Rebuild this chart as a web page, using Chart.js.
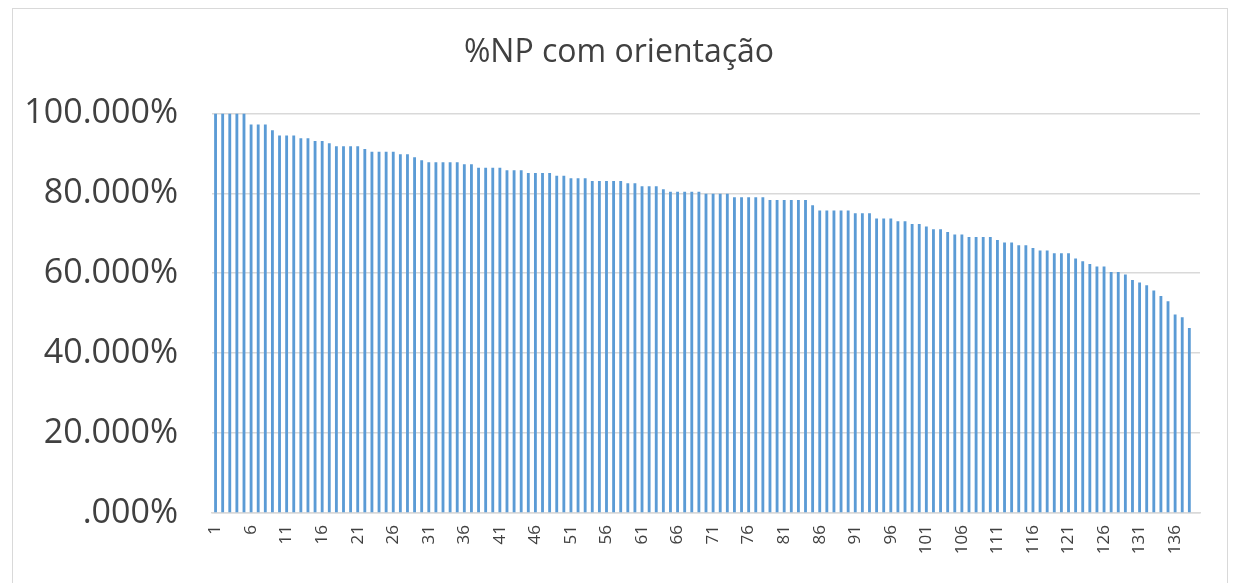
<!DOCTYPE html>
<html>
<head>
<meta charset="utf-8">
<script src="https://cdn.jsdelivr.net/npm/chart.js@4"></script>
<style>
  body { margin: 0; background: #fff; }
  #wrap { position: relative; width: 1238px; height: 583px; overflow: hidden; }
  #frame { position: absolute; left: 12px; top: 8px; width: 1216px; height: 600px; border: 1px solid #d9d9d9; box-sizing: border-box; }
  canvas { position: absolute; left: 0; top: 0; }
</style>
</head>
<body>
<div id="wrap">
  <div id="frame"></div>
  <canvas id="npChart" width="1238" height="583"></canvas>
</div>
<script>
const chartTitle = "%NP com orientação";

// % of NP with guidance, one value per item (sorted)
const npValues = [
  100, 100, 100, 100, 100, 97.2, 97.2, 97.2, 95.8, 94.5,
  94.5, 94.5, 93.8, 93.8, 93.1, 93.1, 92.5, 91.8, 91.8, 91.8,
  91.8, 91.1, 90.4, 90.4, 90.4, 90.4, 89.8, 89.8, 89.0, 88.3,
  87.8, 87.8, 87.8, 87.8, 87.8, 87.3, 87.3, 86.4, 86.4, 86.4,
  86.4, 85.8, 85.8, 85.8, 85.1, 85.1, 85.1, 85.1, 84.4, 84.4,
  83.8, 83.8, 83.8, 83.1, 83.1, 83.1, 83.1, 83.1, 82.5, 82.5,
  81.8, 81.8, 81.8, 81.0, 80.4, 80.4, 80.4, 80.4, 80.4, 79.9,
  79.9, 79.9, 79.9, 79.0, 79.0, 79.0, 79.0, 79.0, 78.3, 78.3,
  78.3, 78.3, 78.3, 78.3, 77.0, 75.7, 75.7, 75.7, 75.7, 75.7,
  75.0, 75.0, 75.0, 73.7, 73.7, 73.7, 73.0, 73.0, 72.3, 72.3,
  71.7, 71.0, 71.0, 70.3, 69.7, 69.7, 69.1, 69.1, 69.1, 69.1,
  68.3, 67.7, 67.7, 67.0, 67.0, 66.3, 65.7, 65.7, 65.0, 65.0,
  65.0, 63.7, 63.0, 62.3, 61.7, 61.7, 60.3, 60.3, 59.7, 58.3,
  57.7, 57.0, 55.7, 54.3, 53.0, 49.7, 49.0, 46.3, null
];
const categories = npValues.map((v, i) => String(i + 1));
const yTicks = [0, 20, 40, 60, 80, 100];

const textColor = "#404040";
const gridColor = "#d9d9d9";
const fontFamily = "'Open Sans', sans-serif";

new Chart(document.getElementById("npChart").getContext("2d"), {
  type: "bar",
  data: {
    labels: categories,
    datasets: [{
      label: chartTitle,
      data: npValues,
      backgroundColor: "#5b9bd5",
      barPercentage: 0.4,
      categoryPercentage: 1.0
    }]
  },
  options: {
    responsive: false,
    animation: false,
    layout: { padding: { top: 34, right: 0, left: 0, bottom: 0 } },
    plugins: {
      legend: { display: false },
      tooltip: { enabled: false },
      title: {
        display: true,
        text: chartTitle,
        color: textColor,
        font: { family: fontFamily, size: 32, weight: "normal" },
        padding: { top: 0, bottom: 41 }
      }
    },
    scales: {
      x: {
        grid: { display: false, drawTicks: false },
        border: { display: true, color: gridColor, width: 1.5 },
        ticks: {
          autoSkip: false,
          minRotation: 90,
          maxRotation: 90,
          padding: 12,
          color: textColor,
          font: { family: fontFamily, size: 17 },
          callback: (v, i) => (i % 5 === 0 ? categories[i] : "")
        },
        afterFit: (s) => { s.height = 70; }
      },
      y: {
        min: 0,
        max: 100,
        afterBuildTicks: (s) => { s.ticks = yTicks.map(v => ({ value: v })); },
        grid: { color: gridColor, lineWidth: 1.5, drawTicks: false },
        border: { display: false },
        ticks: {
          padding: 34,
          color: textColor,
          font: { family: fontFamily, size: 34 },
          callback: (v) => (v === 0 ? ".000%" : v.toFixed(3) + "%")
        },
        afterFit: (s) => { s.width = 212; }
      },
      // empty right-hand strip so the plot ends where the original does
      yRight: {
        position: "right",
        grid: { display: false, drawTicks: false },
        border: { display: false },
        ticks: { display: false },
        afterFit: (s) => { s.width = 38; }
      }
    }
  }
});
</script>
</body>
</html>
